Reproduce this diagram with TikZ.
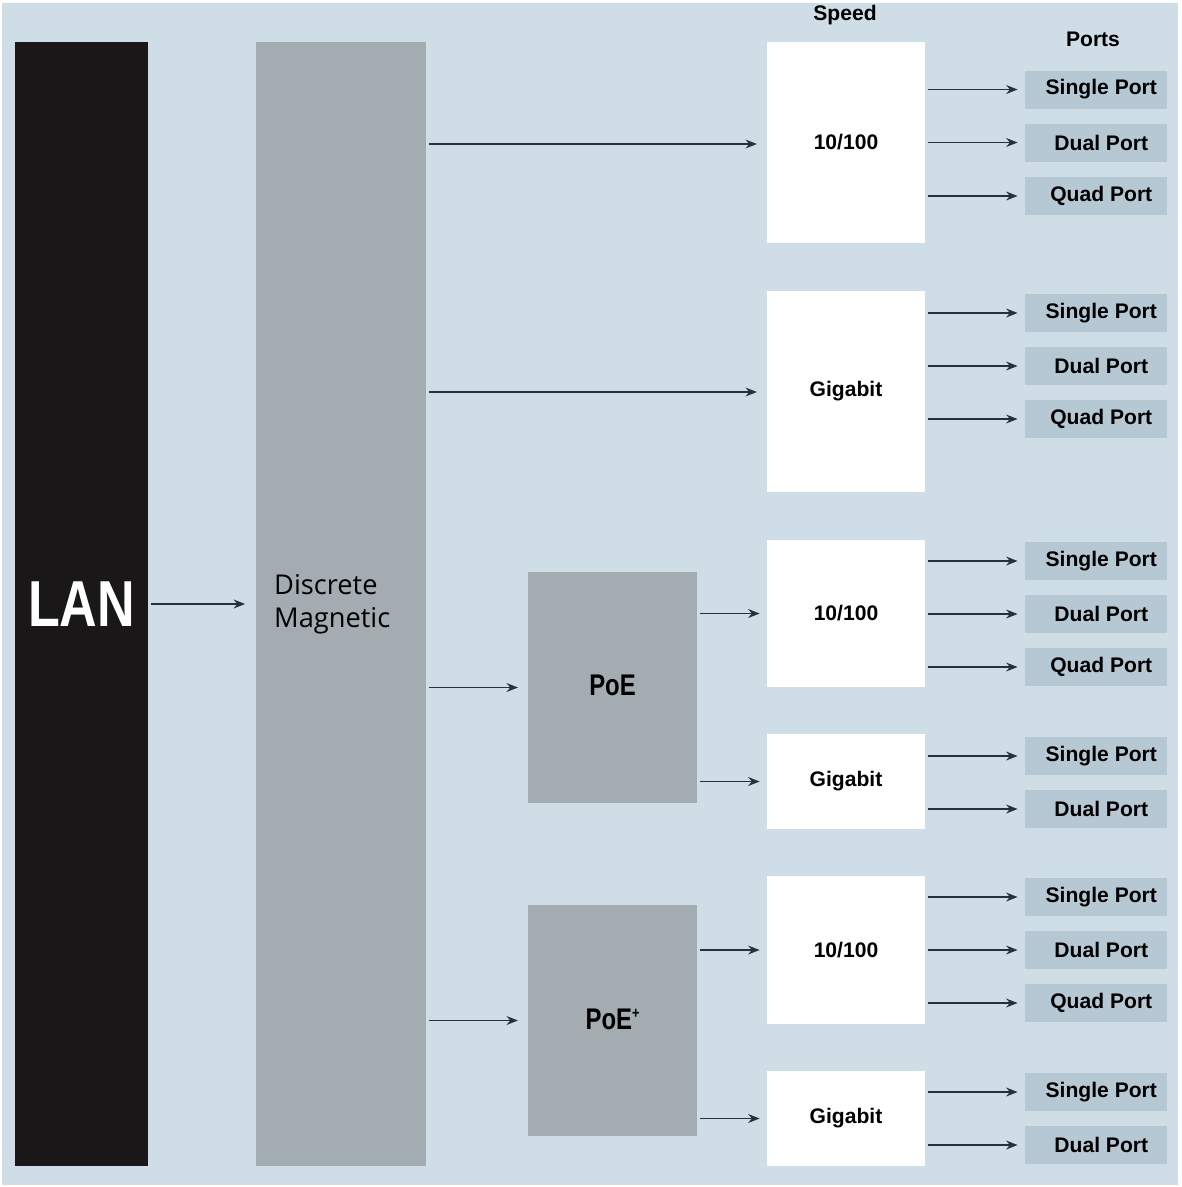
\documentclass[tikz,border=0pt]{standalone}
\usepackage{fontspec}
\setmainfont{Liberation Sans}
\newfontfamily\dmfont{Open Sans}
\newfontfamily\condfont[FakeStretch=0.8]{Liberation Sans}
\usetikzlibrary{arrows.meta}
\definecolor{bgblue}{HTML}{CFDDE6}
\definecolor{blockgray}{HTML}{A3ACB1}
\definecolor{portblue}{HTML}{B6C8D4}
\definecolor{lanblack}{HTML}{1A1718}
\definecolor{arrowdark}{HTML}{27313B}

\begin{document}
\begin{tikzpicture}
      [x=0.02cm, y=-0.02cm,
       block/.style={rectangle, inner sep=0pt, font=\bfseries\fontsize{12}{14}\selectfont},
       speed node/.style={block, fill=white, minimum width=3.16cm},
       port node/.style={block, fill=portblue, minimum width=2.84cm, minimum height=0.76cm},
       flow/.style={-{Stealth[length=6.5pt,width=5pt]}, draw=arrowdark, line width=1.1pt,
                    shorten <=1.5pt, shorten >=4pt}]
      \fill[white] (0,0) rectangle (1181,1187);
      \fill[bgblue] (2,3) rectangle (1178,1185);

      % left side
      \node[rectangle, fill=lanblack, minimum width=2.66cm, minimum height=22.48cm,
            text=white, font=\condfont\bfseries\fontsize{37}{40}\selectfont] (lan) at (81.5,604) {LAN};
      \node[rectangle, fill=blockgray, minimum width=3.4cm, minimum height=22.48cm,
            align=left, font=\dmfont\fontsize{15.5}{19}\selectfont] (dm) at (341,604) {Discrete\\Magnetic\hspace*{10pt}};
      \node[rectangle, fill=blockgray, minimum width=3.38cm, minimum height=4.62cm,
            font=\condfont\bfseries\fontsize{17}{20}\selectfont] (poe) at (612.5,687.5) {\raisebox{3pt}{PoE}};
      \node[rectangle, fill=blockgray, minimum width=3.38cm, minimum height=4.62cm,
            font=\condfont\bfseries\fontsize{17}{20}\selectfont] (poeplus) at (612.5,1020.5)
            {\raisebox{1pt}{PoE\raisebox{0.7ex}{\fontsize{9}{9}\selectfont+}}};

      % speed
      \node[block] (speed) at (845,15) {Speed};
      \node[speed node, minimum height=4.02cm] (s1) at (846,142.5) {10/100};
      \node[speed node, minimum height=4.02cm] (s2) at (846,391.5) {Gigabit};
      \node[speed node, minimum height=2.94cm] (s3) at (846,613.5) {10/100};
      \node[speed node, minimum height=1.9cm] (s4) at (846,781.5) {Gigabit};
      \node[speed node, minimum height=2.96cm] (s5) at (846,950) {10/100};
      \node[speed node, minimum height=1.9cm] (s6) at (846,1118.5) {Gigabit};

      \draw[flow, shorten >=6pt] (lan.east) -- (dm.west);
      \draw[flow, shorten >=5.5pt] (dm.east |- 0,144) -- (s1.west |- 0,144);
      \draw[flow, shorten >=5.5pt] (dm.east |- 0,392) -- (s2.west |- 0,392);
      \draw[flow, shorten >=5.5pt] (dm.east |- poe.west) -- (poe.west);
      \draw[flow, shorten >=5.5pt] (dm.east |- poeplus.west) -- (poeplus.west);
      \draw[flow] (poe.east |- s3.west) -- (s3.west);
      \draw[flow] (poe.east |- s4.west) -- (s4.west);
      \draw[flow] (poeplus.east |- s5.west) -- (s5.west);
      \draw[flow] (poeplus.east |- s6.west) -- (s6.west);

      % ports
      \node[block] (ports) at (1093,39) {Ports};
      \foreach \s/\ya/\yb/\yc in {s1/89.5/142.5/196, s2/313/366/419, s3/561/614/667, s5/897/950/1003} {
        \node[port node] (\s-single) at (1096,\ya) {\hspace*{6pt}Single Port};
        \node[port node] (\s-dual) at (1096,\yb) {\hspace*{6pt}Dual Port};
        \node[port node] (\s-quad) at (1096,\yc) {\hspace*{6pt}Quad Port};
        \foreach \p in {single,dual,quad}
          \draw[flow] (\s.east |- \s-\p.west) -- (\s-\p.west);
      }
      \foreach \s/\ya/\yb in {s4/756/809, s6/1092/1145} {
        \node[port node] (\s-single) at (1096,\ya) {\hspace*{6pt}Single Port};
        \node[port node] (\s-dual) at (1096,\yb) {\hspace*{6pt}Dual Port};
        \foreach \p in {single,dual}
          \draw[flow] (\s.east |- \s-\p.west) -- (\s-\p.west);
      }
\end{tikzpicture}
\end{document}
